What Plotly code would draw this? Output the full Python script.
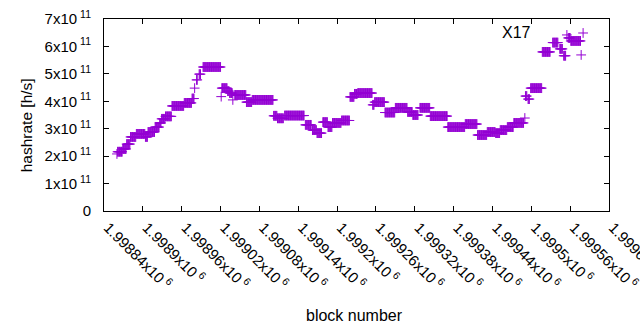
import plotly.graph_objects as go

# Segments of consecutive blocks sharing one hashrate value
seg_first_block = [
    1998860, 1998861, 1998869, 1998875, 1998881, 1998890, 1998904, 1998908, 1998919, 1998926,
    1998929, 1998935, 1998945, 1998964, 1998976, 1998980, 1998983, 1998987, 1998993, 1999021,
    1999022, 1999031, 1999034, 1999039, 1999042, 1999060, 1999069, 1999102, 1999108, 1999119,
    1999151, 1999162, 1999169, 1999178, 1999186, 1999193, 1999207, 1999220, 1999227, 1999232,
    1999255, 1999258, 1999274, 1999290, 1999309, 1999317, 1999328, 1999344, 1999371, 1999398,
    1999417, 1999432, 1999445, 1999452, 1999463, 1999473, 1999490, 1999491, 1999495, 1999499,
    1999517, 1999533, 1999544, 1999550, 1999557, 1999561, 1999577, 1999580,
]
seg_last_block = [
    1998860, 1998868, 1998874, 1998880, 1998889, 1998903, 1998907, 1998918, 1998925, 1998928,
    1998934, 1998944, 1998963, 1998975, 1998979, 1998980, 1998984, 1998989, 1999020, 1999021,
    1999030, 1999033, 1999038, 1999039, 1999059, 1999068, 1999101, 1999107, 1999117, 1999149,
    1999160, 1999168, 1999176, 1999185, 1999192, 1999206, 1999219, 1999226, 1999231, 1999254,
    1999257, 1999273, 1999289, 1999308, 1999316, 1999325, 1999343, 1999370, 1999397, 1999416,
    1999431, 1999444, 1999451, 1999462, 1999472, 1999488, 1999490, 1999493, 1999497, 1999516,
    1999529, 1999541, 1999548, 1999553, 1999560, 1999576, 1999577, 1999580,
]
seg_hashrate_e11 = [
    2.08, 2.16, 2.26, 2.44, 2.70, 2.81, 2.70, 2.88, 3.06, 3.21,
    3.36, 3.45, 3.83, 3.94, 4.10, 4.48, 4.78, 4.99, 5.25, 4.17,
    4.48, 4.37, 4.30, 4.05, 4.23, 3.97, 4.05, 3.47, 3.38, 3.48,
    3.14, 2.95, 2.84, 3.24, 3.06, 3.21, 3.30, 4.16, 4.27, 4.30,
    3.87, 3.97, 3.59, 3.76, 3.61, 3.50, 3.76, 3.46, 3.06, 3.17,
    2.77, 2.88, 2.84, 2.95, 3.06, 3.21, 3.39, 4.19, 4.08, 4.48,
    5.80, 6.14, 5.91, 5.66, 6.31, 6.20, 5.69, 6.49,
]

x_tick_values = [1998840, 1998900, 1998960, 1999020, 1999080, 1999140, 1999200,
                 1999260, 1999320, 1999380, 1999440, 1999500, 1999560, 1999620]
x_tick_labels = ["1.99884", "1.9989", "1.99896", "1.99902", "1.99908", "1.99914", "1.9992",
                 "1.99926", "1.99932", "1.99938", "1.99944", "1.9995", "1.99956", "1.99962"]
y_tick_values = [0, 1e11, 2e11, 3e11, 4e11, 5e11, 6e11, 7e11]
y_tick_mantissas = ["0", "1", "2", "3", "4", "5", "6", "7"]

blocks, rates = [], []
for b0, b1, v in zip(seg_first_block, seg_last_block, seg_hashrate_e11):
    for b in range(b0, b1 + 1):
        blocks.append(b)
        rates.append(v * 1e11)

x_text = [f"{t}x10\u2009<sup>6</sup>" for t in x_tick_labels]
y_text = [m if m == "0" else f"{m}x10\u2009<sup>11</sup>" for m in y_tick_mantissas]

PURPLE = "#9400D3"
FONT = "Liberation Sans, Arial, sans-serif"

fig = go.Figure(go.Scatter(
    x=blocks, y=rates, mode="markers", name=" ",
    marker=dict(symbol="cross-thin", size=7, color=PURPLE,
                line=dict(color=PURPLE, width=1)),
    showlegend=True,
))

axis_common = dict(showline=True, linecolor="black", linewidth=1, mirror="allticks",
                   ticks="inside", ticklen=5, tickcolor="black", tickwidth=1,
                   showgrid=False, zeroline=False, automargin=False,
                   ticklabeloverflow="allow",
                   tickfont=dict(family=FONT, size=15, color="black"))

fig.update_xaxes(range=[1998840, 1999620], tickvals=x_tick_values, ticktext=x_text,
                 tickangle=45, ticklabelshift=4, ticklabelstandoff=1, **axis_common)
fig.update_yaxes(range=[0, 7e11], tickvals=y_tick_values, ticktext=y_text,
                 ticklabelstandoff=9, **axis_common)

fig.add_annotation(text="hashrate [h/s]", textangle=-90, xref="paper", yref="paper",
                   x=-0.153, y=0.445, xanchor="center", yanchor="middle", showarrow=False,
                   font=dict(family=FONT, size=15.5, color="black"))
fig.add_annotation(text="block number", xref="paper", yref="paper",
                   x=0.497, y=-0.542, xanchor="center", yanchor="middle", showarrow=False,
                   font=dict(family=FONT, size=16, color="black"))
fig.add_annotation(text="X17", xref="paper", yref="paper", x=0.8495, y=0.932,
                   xanchor="right", yanchor="middle", showarrow=False,
                   font=dict(family=FONT, size=16, color="black"))

fig.update_layout(
    width=640, height=330,
    margin=dict(l=104, r=31, t=19, b=119, autoexpand=False),
    paper_bgcolor="white", plot_bgcolor="white",
    font=dict(family=FONT, size=16, color="black"),
    legend=dict(x=0.877, y=1.005, xanchor="left", yanchor="top", bgcolor="rgba(0,0,0,0)",
                font=dict(family=FONT, size=16)),
)

fig.write_html("out.html", config={"displayModeBar": False},
               post_script="document.body.style.margin='0';")
